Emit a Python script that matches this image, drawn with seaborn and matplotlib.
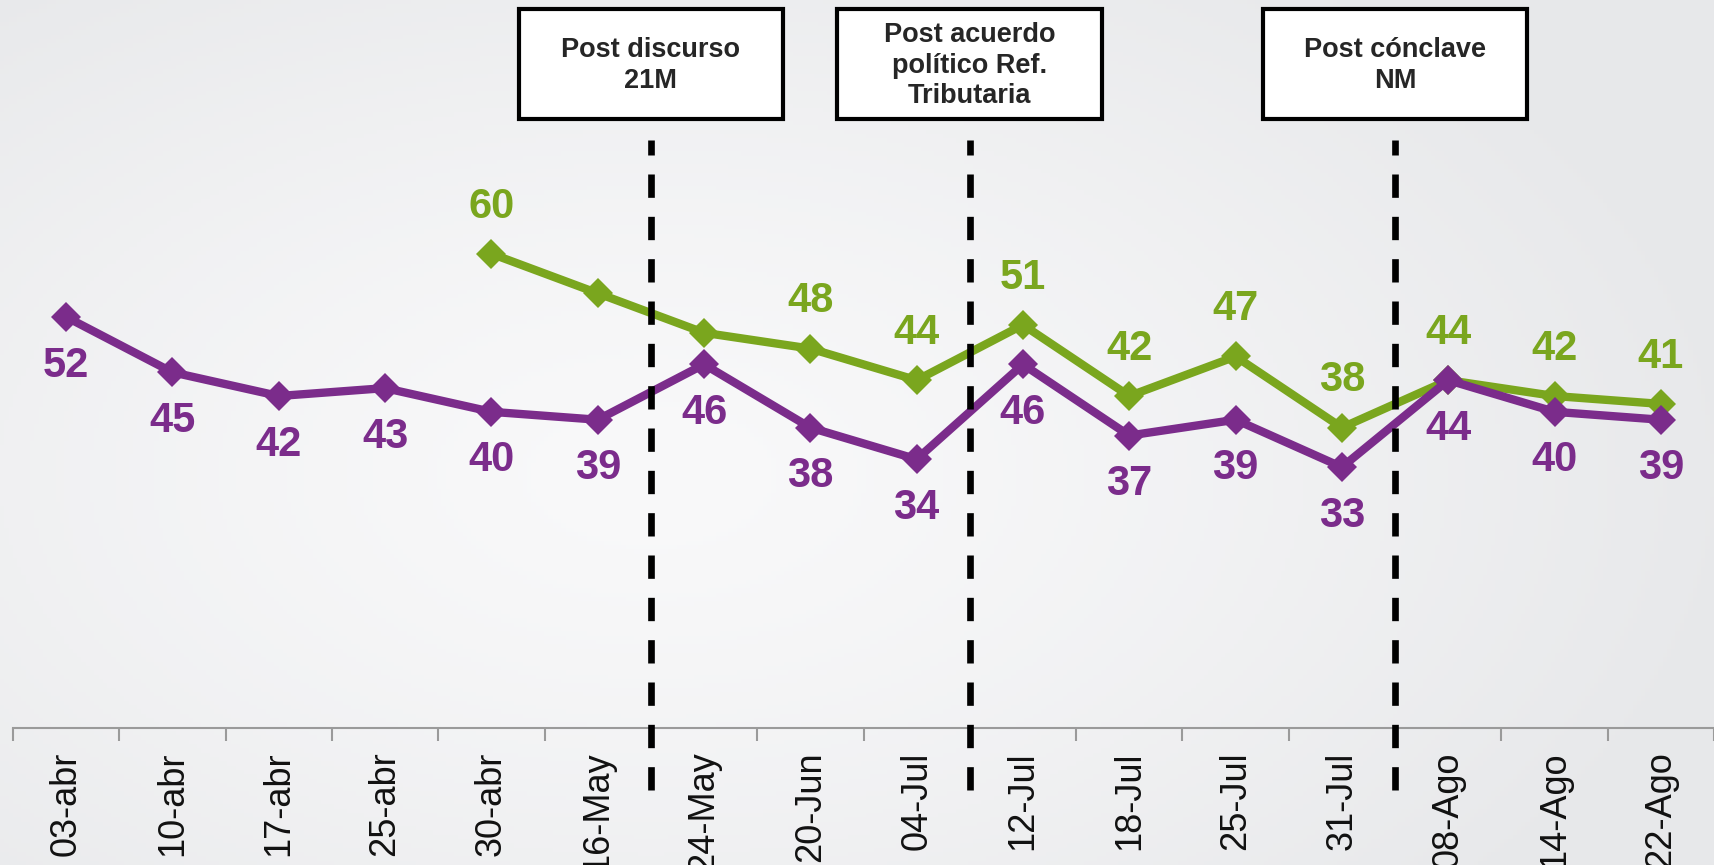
import numpy as np
import pandas as pd
import matplotlib
matplotlib.use('Agg')
import matplotlib.pyplot as plt
from matplotlib.patches import Rectangle
import seaborn as sns

# Data
dates = ['03-abr', '10-abr', '17-abr', '25-abr', '30-abr', '16-May', '24-May', '20-Jun',
         '04-Jul', '12-Jul', '18-Jul', '25-Jul', '31-Jul', '08-Ago', '14-Ago', '22-Ago']
purple = [52, 45, 42, 43, 40, 39, 46, 38, 34, 46, 37, 39, 33, 44, 40, 39]
green = [np.nan, np.nan, np.nan, np.nan, 60, 55, 50, 48, 44, 51, 42, 47, 38, 44, 42, 41]
green_labeled = [False, False, False, False, True, False, False, True,
                 True, True, True, True, True, True, True, True]
event_after = ['16-May', '04-Jul', '31-Jul']
event_labels = ['Post discurso\n21M', 'Post acuerdo\npolítico Ref.\nTributaria', 'Post cónclave\nNM']

PURPLE = '#7B2C8B'
GREEN = '#7AA61E'

sns.set_style('white')
plt.rcParams['font.family'] = ['Liberation Sans', 'DejaVu Sans']

df = pd.DataFrame({'x': np.arange(len(dates)), 'purple': purple, 'green': green})

fig = plt.figure(figsize=(17.14, 8.65), dpi=100)

# soft radial background
bg = fig.add_axes([0, 0, 1, 1], zorder=0)
gx, gy = np.meshgrid(np.linspace(0, 1, 400), np.linspace(0, 1, 200))
r = np.sqrt(((gx - 0.38) / 0.65) ** 2 + ((gy - 0.45) / 0.75) ** 2)
r = np.clip(r, 0, 1) ** 1.3
c0 = np.array([249, 249, 250]) / 255
c1 = np.array([231, 232, 234]) / 255
img = c0[None, None, :] + (c1 - c0)[None, None, :] * r[:, :, None]
bg.imshow(img, aspect='auto', extent=[0, 1, 0, 1], origin='lower')
bg.axis('off')

ax = fig.add_axes([13 / 1714, 1 - 728 / 865, 1 - 13 / 1714, 728 / 865], zorder=1)
ax.patch.set_alpha(0)

sns.lineplot(data=df, x='x', y='green', ax=ax, color=GREEN, lw=6, marker='D',
             markersize=15, markeredgewidth=0, zorder=3)
sns.lineplot(data=df, x='x', y='purple', ax=ax, color=PURPLE, lw=6, marker='D',
             markersize=15, markeredgewidth=0, zorder=4)

for i, v in enumerate(purple):
    ax.annotate(f'{v}', (i, v), xytext=(0, -35), textcoords='offset points',
                ha='center', va='center', color=PURPLE, fontsize=30, fontweight='bold')
for i, v in enumerate(green):
    if green_labeled[i]:
        ax.annotate(f'{v:.0f}', (i, v), xytext=(0, 34), textcoords='offset points',
                    ha='center', va='center', color=GREEN, fontsize=30, fontweight='bold')

# event markers: dashed line + labelled box centred on it
half_w = 1.245
for name, label in zip(event_after, event_labels):
    xe = dates.index(name) + 0.5
    # drawn bottom-up so the dash pattern starts at the bottom end
    ax.plot([xe, xe], [-7.85, 74.4], color='black', lw=4.8, ls=(0, (3.5, 2.85)),
            solid_capstyle='butt', dash_capstyle='butt', clip_on=False, zorder=5)
    ax.add_patch(Rectangle((xe - half_w, 77.0), 2 * half_w, 13.9, facecolor='white',
                           edgecolor='black', lw=3.0, clip_on=False, zorder=6))
    ax.text(xe, 83.8, label, ha='center', va='center', fontsize=19.5,
            fontweight='bold', linespacing=1.22, zorder=7)

ax.set_xlim(-0.5, 15.39)
ax.set_ylim(0, 92.1)
ax.set_yticks([])
ax.set_xticks(range(len(dates)))
ax.set_xticklabels(dates, rotation=90, fontsize=26, color='#111111')
ax.set_xticks(np.arange(-0.5, len(dates), 1), minor=True)
ax.tick_params(axis='x', which='both', bottom=True)
ax.tick_params(axis='x', which='major', length=0, pad=17)
ax.tick_params(axis='x', which='minor', length=9, width=1.5, color='#9A9A9A')
ax.set_xlabel('')
ax.set_ylabel('')
for s in ['top', 'right', 'left']:
    ax.spines[s].set_visible(False)
ax.spines['bottom'].set_color('#9A9A9A')
ax.spines['bottom'].set_linewidth(1.5)

fig.savefig('out.png', dpi=100)
